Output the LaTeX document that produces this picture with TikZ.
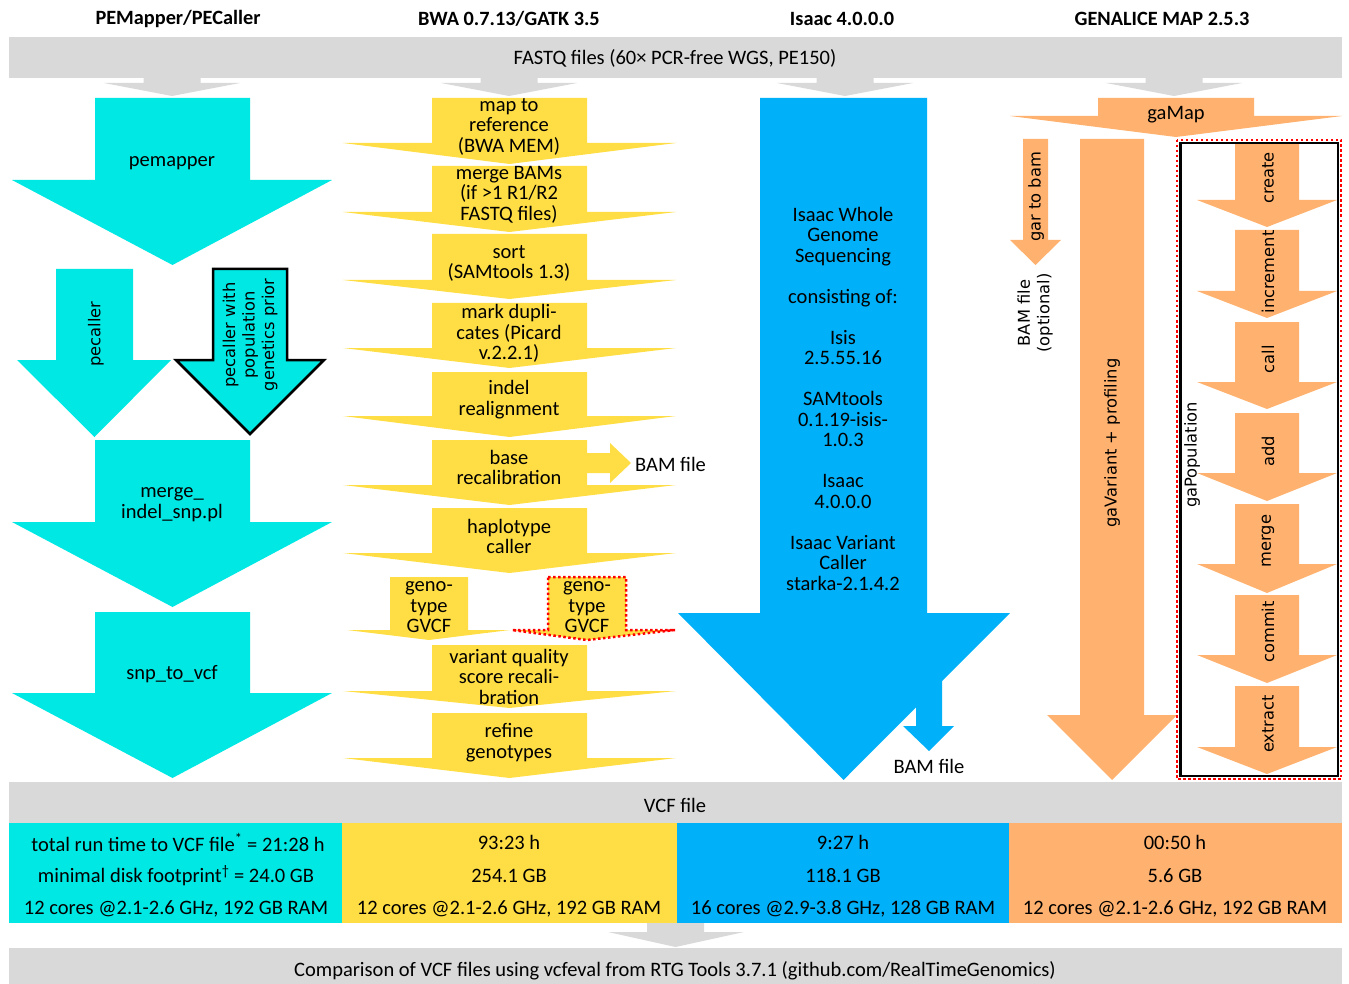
\documentclass[tikz,border=0pt]{standalone}
\usepackage{fontspec}
\setmainfont{Carlito}
\newfontfamily\rotfont{DejaVu Sans}
\definecolor{cyanc}{HTML}{00E8E3}
\definecolor{yelc}{HTML}{FFDE45}
\definecolor{bluec}{HTML}{00B0F8}
\definecolor{orac}{HTML}{FFB26F}
\definecolor{grayc}{HTML}{D9D9D9}
% #1 style, #2 shaft left, #3 shaft right, #4 shaft top, #5 head top, #6 head left, #7 head right, #8 tip y
\newcommand\DArr[8][]{\path[#1] (#2,#4) -- (#3,#4) -- (#3,#5) -- (#7,#5) -- ({(#2+#3)/2},#8) -- (#6,#5) -- (#2,#5) -- cycle;}
\tikzset{
  txt/.style={font=\fontsize{20.5}{20.5}\selectfont, align=center, inner sep=0pt, yshift=-1.5pt},
  rtxt/.style={font=\rotfont\fontsize{16.3}{19.5}\selectfont, align=center, inner sep=0pt, rotate=90},
  ttl/.style={font=\bfseries\fontsize{20.3}{22}\selectfont, inner sep=0pt, yshift=-1pt},
  reddot/.style={draw=red, line width=2.5pt, dash pattern=on 2.5pt off 2.5pt},
}
\begin{document}
\begin{tikzpicture}[x=1pt,y=-1pt]
\useasboundingbox (0,0) rectangle (1349,984);
% titles
\node[ttl] (t1) at (178,18) {PEMapper/PECaller};
\node[ttl] (t2) at (509,18) {BWA 0.7.13/GATK 3.5};
\node[ttl] (t3) at (842,18) {Isaac 4.0.0.0};
\node[ttl] (t4) at (1162,18) {GENALICE MAP 2.5.3};
% FASTQ bar
\fill[grayc] (9,37) rectangle (1342,78);
\node[txt] (fastq) at (675,57) {FASTQ files (60× PCR-free WGS, PE150)};
\foreach \c in {172,509,845,1174}{
  \DArr[fill=grayc]{\c-28.5}{\c+28.5}{78}{83}{\c-68}{\c+68}{96}
}
% column 1 (cyan)
\DArr[fill=cyanc]{95}{250}{98}{180}{12}{332}{265}
\DArr[fill=cyanc]{56}{133}{269}{360}{17}{171}{437}
\DArr[fill=cyanc,draw=black,line width=2.5pt]{213}{287}{269}{360}{176}{324}{434}
\DArr[fill=cyanc]{95}{250}{440}{522}{12}{332}{607}
\DArr[fill=cyanc]{95}{250}{612}{693}{12}{332}{778}
\node[txt] (pemap) at (172,162) {pemapper};
\node[rtxt] (pecall) at (96,334) {pecaller};
\node[rtxt] (pecallpop) at (250,335) {pecaller with\\population\\genetics prior};
\node[txt] (mergeis) at (172,503) {merge\_\\indel\_snp.pl};
\node[txt] (snpvcf) at (172,673) {snp\_to\_vcf};
% column 2 (yellow)
\DArr[fill=yelc]{432}{587}{98}{143}{343}{676}{164}
\DArr[fill=yelc]{432}{587}{166}{212}{343}{676}{232}
\DArr[fill=yelc]{432}{587}{234}{280}{343}{676}{299}
\DArr[fill=yelc]{432}{587}{303}{348}{343}{676}{368}
\DArr[fill=yelc]{432}{587}{372}{416}{343}{676}{437}
\DArr[fill=yelc]{432}{587}{440}{485}{343}{676}{505}
\DArr[fill=yelc]{432}{587}{508}{553}{343}{676}{573}
\DArr[fill=yelc]{390}{468}{577}{630}{347}{510}{640}
\DArr[fill=yelc,reddot]{548}{626}{577}{630}{512}{675}{640}
\DArr[fill=yelc]{432}{587}{645}{691}{343}{676}{708}
\DArr[fill=yelc]{432}{587}{713}{758}{343}{676}{778}
% side arrow to BAM file
\fill[yelc] (586,453) -- (610,453) -- (610,443) -- (631,463) -- (610,483) -- (610,473) -- (586,473) -- cycle;
\node[txt] (map) at (509,125) {map to\\reference\\(BWA MEM)};
\node[txt] (mbam) at (509,193) {merge BAMs\\(if >1 R1/R2\\FASTQ files)};
\node[txt] (sort) at (509,262) {sort\\(SAMtools 1.3)};
\node[txt] (mdup) at (509,332) {mark dupli-\\cates (Picard\\v.2.2.1)};
\node[txt] (indel) at (509,398) {indel\\realignment};
\node[txt] (brecal) at (509,466) {base\\recalibration};
\node[txt,anchor=west] (bam1) at (635,463) {BAM file};
\node[txt] (hapl) at (509,535) {haplotype\\caller};
\node[txt] (gvcf1) at (429,606) {geno-\\type\\GVCF};
\node[txt] (gvcf2) at (587,606) {geno-\\type\\GVCF};
\node[txt] (vqsr) at (509,675) {variant quality\\score recali-\\bration};
\node[txt] (refine) at (509,741) {refine\\genotypes};
% column 3 (blue)
\DArr[fill=bluec]{760}{927}{98}{613}{678}{1010}{780}
\DArr[fill=bluec]{916}{942}{670}{726}{903}{954}{751}
\node[txt] (isaac) at (843,397) {Isaac Whole\\Genome\\Sequencing\\[20.5pt]consisting of:\\[20.5pt]Isis\\2.5.55.16\\[20.5pt]SAMtools\\0.1.19-isis-\\1.0.3\\[20.5pt]Isaac\\4.0.0.0\\[20.5pt]Isaac Variant\\Caller\\starka-2.1.4.2};
\node[txt] (bam2) at (929,765) {BAM file};
% column 4 (orange)
\DArr[fill=orac]{1098}{1254}{98}{116}{1010}{1342}{137}
\DArr[fill=orac]{1023}{1048}{139}{240}{1010}{1061}{265}
\DArr[fill=orac]{1080}{1144}{139}{715}{1047}{1177}{780}
\foreach \st/\ht/\tp in {143/200/227,230/291/318,322/382/409,413/473/501,504/564/593,595/655/683,686/747/774}{
  \DArr[fill=orac]{1235}{1299}{\st}{\ht}{1197}{1337}{\tp}
}
\node[txt] (gamap) at (1176,113) {gaMap};
\node[rtxt] (gar) at (1036,197) {gar to bam};
\node[rtxt] (bamopt) at (1035,313) {BAM file\\(optional)};
\node[rtxt] (gavar) at (1112,443) {gaVariant + profiling};
\node[rtxt] (gapop) at (1192,455) {gaPopulation};
\node[rtxt] (create) at (1268,178) {create};
\node[rtxt] (incr) at (1268,272) {increment};
\node[rtxt] (call) at (1268,359) {call};
\node[rtxt] (add) at (1268,451) {add};
\node[rtxt] (merge) at (1268,541) {merge};
\node[rtxt] (commit) at (1268,632) {commit};
\node[rtxt] (extract) at (1268,724) {extract};
\draw[reddot] (1177,140) rectangle (1341,779);
\draw[black,line width=2.5pt] (1180.5,143) rectangle (1338,776);
% VCF bar and stats
\fill[grayc] (9,782) rectangle (1342,823);
\node[txt] (vcf) at (675,804) {VCF file};
\fill[cyanc] (9,823) rectangle (342,923);
\fill[yelc] (342,823) rectangle (677,923);
\fill[bluec] (677,823) rectangle (1009,923);
\fill[orac] (1009,823) rectangle (1342,923);
\node[txt] (s11) at (178,841) {total run time to VCF file\textsuperscript{*} = 21:28 h};
\node[txt] (s12) at (176,874) {minimal disk footprint\textsuperscript{†} = 24.0 GB};
\node[txt] (s13) at (176,907) {12 cores @2.1-2.6 GHz, 192 GB RAM};
\node[txt] (s21) at (509,841) {93:23 h};
\node[txt] (s22) at (509,874) {254.1 GB};
\node[txt] (s23) at (509,907) {12 cores @2.1-2.6 GHz, 192 GB RAM};
\node[txt] (s31) at (843,841) {9:27 h};
\node[txt] (s32) at (843,874) {118.1 GB};
\node[txt] (s33) at (843,907) {16 cores @2.9-3.8 GHz, 128 GB RAM};
\node[txt] (s41) at (1175,841) {00:50 h};
\node[txt] (s42) at (1175,874) {5.6 GB};
\node[txt] (s43) at (1175,907) {12 cores @2.1-2.6 GHz, 192 GB RAM};
\DArr[fill=grayc]{647}{704}{923}{932}{608}{744}{947}
\fill[grayc] (9,948) rectangle (1342,984);
\node[txt] (cmp) at (675,969) {Comparison of VCF files using vcfeval from RTG Tools 3.7.1 (github.com/RealTimeGenomics)};
\end{tikzpicture}
\end{document}
